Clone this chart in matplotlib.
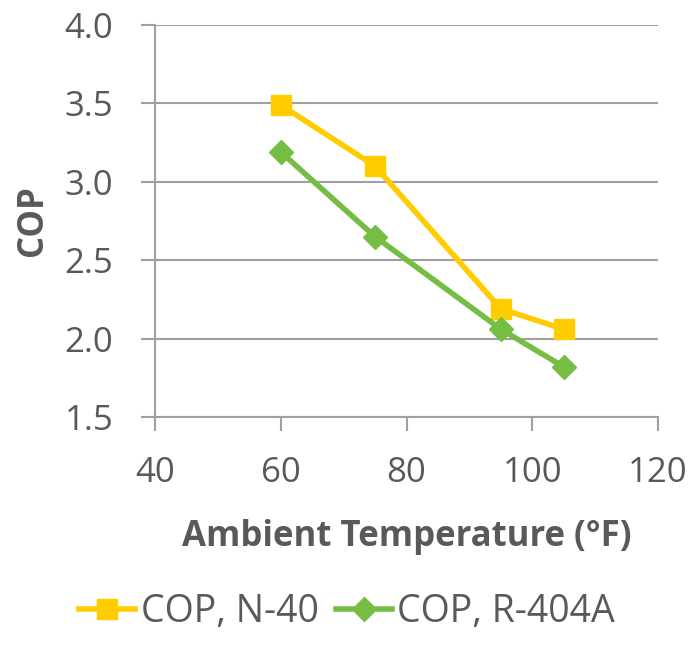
import matplotlib
matplotlib.use("Agg")
import matplotlib.pyplot as plt

# data
temps = [60, 75, 95, 105]
cop_n40 = [3.49, 3.10, 2.19, 2.06]
cop_r404a = [3.19, 2.65, 2.06, 1.82]
labels = ["COP, N-40", "COP, R-404A"]

xticks = [40, 60, 80, 100, 120]
yticks = [1.5, 2.0, 2.5, 3.0, 3.5, 4.0]

txt = "#595959"
grid = "#a0a0a0"
yellow = "#ffcc00"
green = "#76bd43"

plt.rcParams['font.family'] = ['Open Sans', 'DejaVu Sans']

fig = plt.figure(figsize=(6.94, 6.46), dpi=100)
ax = fig.add_axes([155/694, 1 - 417/646, (658-155)/694, (417-25)/646])

ax.plot(temps, cop_n40, color=yellow, lw=4, marker='s', ms=14, label=labels[0], zorder=3)
ax.plot(temps, cop_r404a, color=green, lw=4, marker='D', ms=12, label=labels[1], zorder=3)

ax.set_xlim(40, 120)
ax.set_ylim(1.5, 4.0)
ax.set_xticks(xticks)
ax.set_yticks(yticks)
ax.set_yticklabels(["%.1f" % v for v in yticks])

ax.grid(axis='y', color=grid, lw=1.5)
ax.set_axisbelow(True)
for s in ['top', 'right']:
    ax.spines[s].set_visible(False)
for s in ['left', 'bottom']:
    ax.spines[s].set_color(grid)
    ax.spines[s].set_linewidth(1.5)

ax.tick_params(axis='both', colors=grid, labelcolor=txt, labelsize=25, width=1.5, length=10)
ax.tick_params(axis='x', pad=18)
ax.tick_params(axis='y', pad=20)

ax.set_xlabel("Ambient Temperature (°F)", fontsize=25, fontweight='bold', color=txt, labelpad=21)
ax.set_ylabel("COP", fontsize=25, fontweight='bold', color=txt, labelpad=10)

leg = fig.legend(loc='center', bbox_to_anchor=(0.5, 1 - 612/646), ncol=2, frameon=False,
                 fontsize=27, handlelength=1.5, handletextpad=0.15, columnspacing=0.45,
                 labelcolor=txt)

fig.savefig("out.png", dpi=100)
